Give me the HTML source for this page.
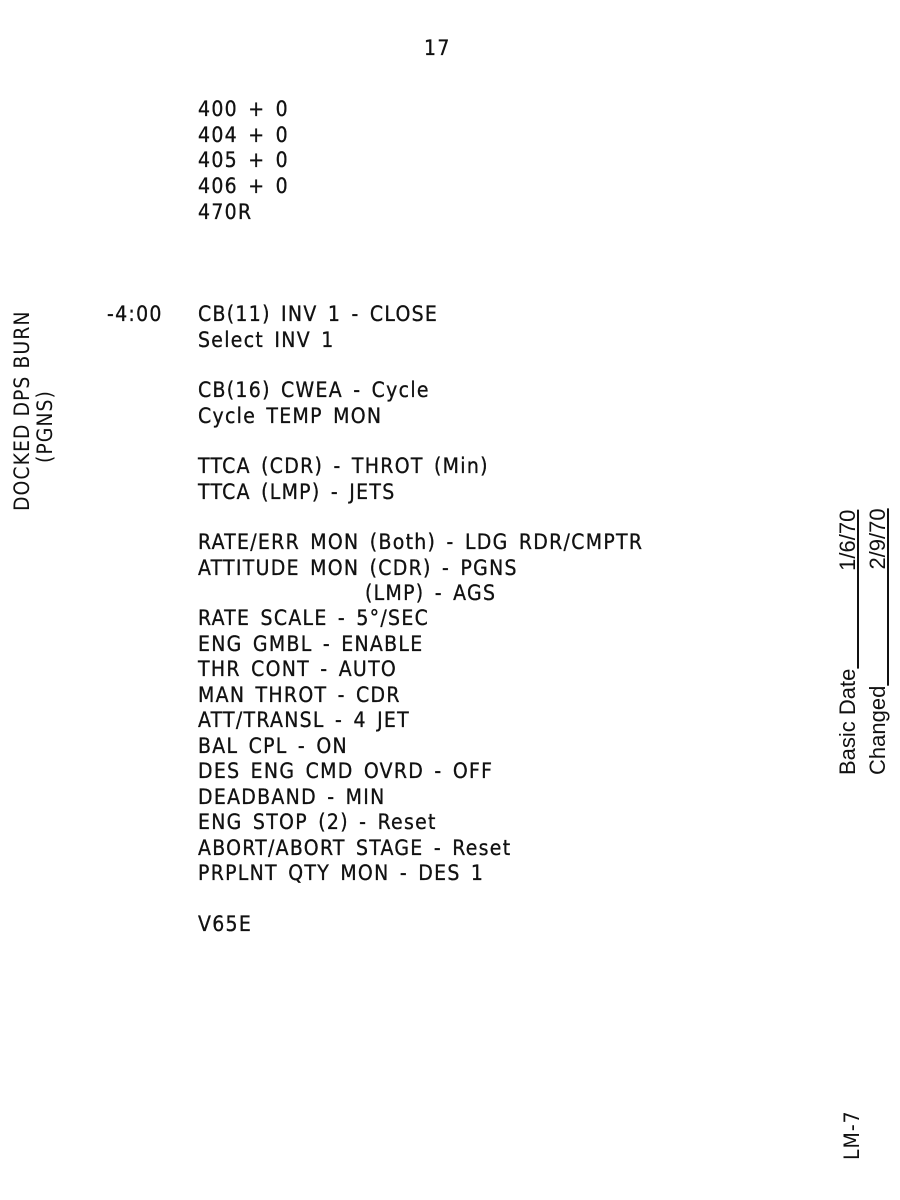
<!DOCTYPE html>
<html><head><style>
body{margin:0;width:900px;height:1200px;background:#fff;position:relative;overflow:hidden;font-family:"DejaVu Sans Condensed","Liberation Sans",sans-serif;color:#111}
.t{position:absolute;font-size:21px;line-height:21px;white-space:pre;letter-spacing:1.3px;word-spacing:3px;-webkit-text-stroke:0.3px #111}
.r{position:absolute;white-space:pre;transform-origin:0 0;transform:rotate(-90deg);font-size:21px;line-height:21px;letter-spacing:1px}
.s{font-family:"Liberation Sans",sans-serif;letter-spacing:0;font-size:22px}
</style></head><body>
<div class="t" style="left:424px;top:38px">17</div>
<div class="t" style="left:198px;top:99px">400 + 0</div>
<div class="t" style="left:198px;top:125px">404 + 0</div>
<div class="t" style="left:198px;top:150px">405 + 0</div>
<div class="t" style="left:198px;top:176px">406 + 0</div>
<div class="t" style="left:198px;top:202px">470R</div>
<div class="t" style="left:107px;top:304px">-4:00</div>
<div class="t" style="left:198px;top:304px">CB(11) INV 1 - CLOSE</div>
<div class="t" style="left:198px;top:330px">Select INV 1</div>
<div class="t" style="left:198px;top:380px">CB(16) CWEA - Cycle</div>
<div class="t" style="left:198px;top:406px">Cycle TEMP MON</div>
<div class="t" style="left:198px;top:456px">TTCA (CDR) - THROT (Min)</div>
<div class="t" style="left:198px;top:482px">TTCA (LMP) - JETS</div>
<div class="t" style="left:198px;top:532px">RATE/ERR MON (Both) - LDG RDR/CMPTR</div>
<div class="t" style="left:198px;top:558px">ATTITUDE MON (CDR) - PGNS</div>
<div class="t" style="left:365px;top:583px">(LMP) - AGS</div>
<div class="t" style="left:198px;top:608px">RATE SCALE - 5°/SEC</div>
<div class="t" style="left:198px;top:634px">ENG GMBL - ENABLE</div>
<div class="t" style="left:198px;top:659px">THR CONT - AUTO</div>
<div class="t" style="left:198px;top:685px">MAN THROT - CDR</div>
<div class="t" style="left:198px;top:710px">ATT/TRANSL - 4 JET</div>
<div class="t" style="left:198px;top:736px">BAL CPL - ON</div>
<div class="t" style="left:198px;top:761px">DES ENG CMD OVRD - OFF</div>
<div class="t" style="left:198px;top:787px">DEADBAND - MIN</div>
<div class="t" style="left:198px;top:812px">ENG STOP (2) - Reset</div>
<div class="t" style="left:198px;top:838px">ABORT/ABORT STAGE - Reset</div>
<div class="t" style="left:198px;top:863px">PRPLNT QTY MON - DES 1</div>
<div class="t" style="left:198px;top:914px">V65E</div>
<div class="r" style="left:12px;top:511px">DOCKED DPS BURN</div>
<div class="r" style="left:35px;top:463px">(PGNS)</div>
<div class="r s" style="left:837px;top:775px">Basic Date<span style="text-decoration:underline">                1/6/70</span></div>
<div class="r s" style="left:867px;top:775px">Changed<span style="text-decoration:underline">                   2/9/70</span></div>
<div class="r" style="left:842px;top:1160px">LM-7</div>
</body></html>
